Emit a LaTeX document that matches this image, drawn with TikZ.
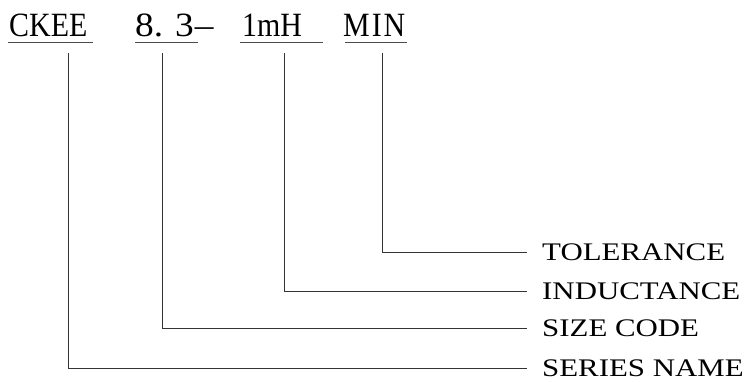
\documentclass[tikz,border=0pt]{standalone}
\usepackage{fontspec}
\setmainfont{Liberation Serif}
\newfontfamily\topfont[FakeStretch=0.88]{Liberation Serif}
\newfontfamily\digfont[FakeStretch=1.1]{Liberation Serif}
\newfontfamily\lblfont[FakeStretch=1.22]{Liberation Serif}
\begin{document}
\begin{tikzpicture}[x=1pt,y=-1pt,
  term/.style={anchor=base west,inner sep=0pt,font=\topfont\fontsize{34}{34}\selectfont},
  lbl/.style={anchor=west,inner sep=0pt,font=\lblfont\fontsize{25.3}{25.3}\selectfont},
  uline/.style={line width=0.9pt,draw=black!70},
  conn/.style={line width=0.9pt,draw=black!80}]
\useasboundingbox (0,0) rectangle (744,381);
% top code
\node[term] (t1) at (9,36) {CKEE};
\node[term] (t2) at (135,36) {\digfont 8.\hspace{12pt}3\hspace{1pt}–};
\node[term] (t3) at (242,36) {1mH};
\node[term] (t4) at (343,36) {M\hspace{2pt}I\hspace{2pt}N};
\draw[uline] (8,42) -- (93,42);
\draw[uline] (135,42) -- (198,42);
\draw[uline] (240,42) -- (323,42);
\draw[uline] (345,42) -- (407,42);
% labels
\node[lbl] (l1) at (542,252) {TOLERANCE};
\node[lbl] (l2) at (542,291) {INDUCTANCE};
\node[lbl] (l3) at (542,328) {SIZE CODE};
\node[lbl] (l4) at (542,368) {SERIES NAME};
% connector starts
\coordinate (v1) at (68,53);
\coordinate (v2) at (162,53);
\coordinate (v3) at (284,53);
\coordinate (v4) at (382,53);
\draw[conn] (v4) |- ([xshift=-15pt]l1.west);
\draw[conn] (v3) |- ([xshift=-15pt]l2.west);
\draw[conn] (v2) |- ([xshift=-15pt]l3.west);
\draw[conn] (v1) |- ([xshift=-15pt]l4.west);
\end{tikzpicture}
\end{document}
